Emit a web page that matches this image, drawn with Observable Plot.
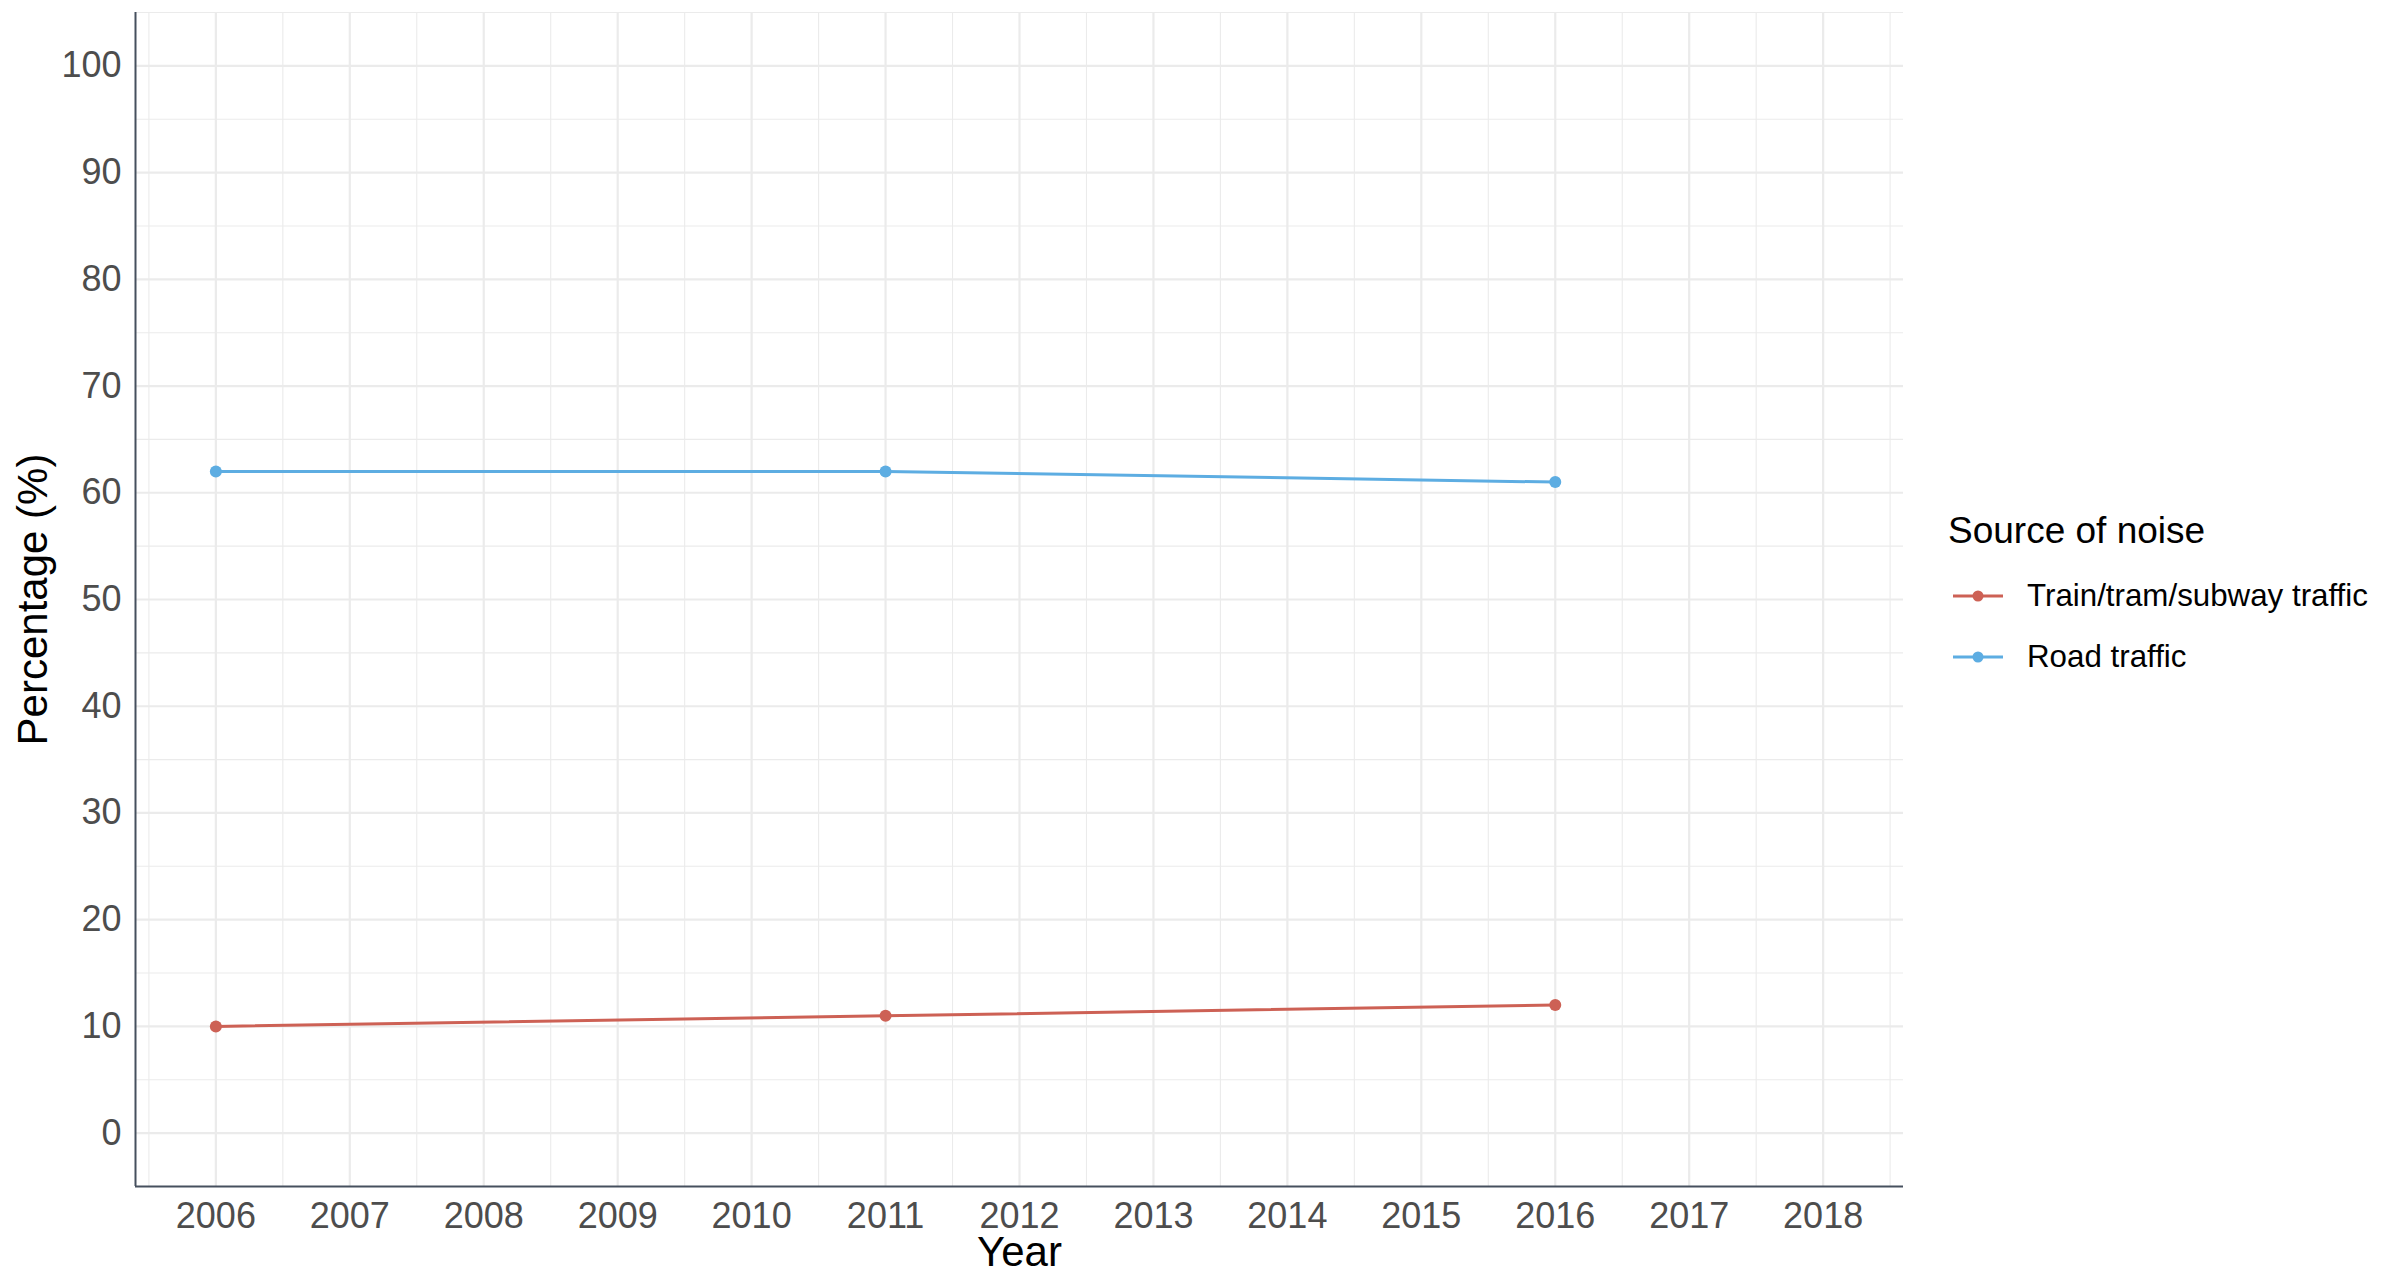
<!DOCTYPE html>
<html><head><meta charset="utf-8">
<script src="https://cdn.jsdelivr.net/npm/d3@7"></script>
<script src="https://cdn.jsdelivr.net/npm/@observablehq/plot@0.6"></script>
<style>
body{margin:0;background:#fff;font-family:"Liberation Sans",Arial,Helvetica,sans-serif;}
#wrap{position:relative;width:2381px;height:1276px;overflow:hidden;}
.lg{position:absolute;transform:translateY(-50%);white-space:nowrap;color:#000;}
.lgkey{position:absolute;transform:translateY(-50%);}
</style></head><body><div id="wrap"></div>
<script>
const years = [2006, 2011, 2016];
const trainTraffic = [10, 11, 12];
const roadTraffic = [62, 62, 61];
const seriesNames = ["Train/tram/subway traffic", "Road traffic"];
const seriesColors = ["#CD6155", "#5DADE2"];
const legendTitle = "Source of noise";
const xTicks = [2006, 2007, 2008, 2009, 2010, 2011, 2012, 2013, 2014, 2015, 2016, 2017, 2018];
const xMinor = [2005.5, 2006.5, 2007.5, 2008.5, 2009.5, 2010.5, 2011.5, 2012.5, 2013.5, 2014.5, 2015.5, 2016.5, 2017.5, 2018.5];
const yTicks = [0, 10, 20, 30, 40, 50, 60, 70, 80, 90, 100];
const yMinor = [5, 15, 25, 35, 45, 55, 65, 75, 85, 95, 105];
const xDomain = [2005.4, 2018.6];
const yDomain = [-5, 105];

const data = [];
years.forEach((y, i) => data.push({year: y, value: trainTraffic[i], series: seriesNames[0]}));
years.forEach((y, i) => data.push({year: y, value: roadTraffic[i], series: seriesNames[1]}));

const gridColor = "#ebebeb";
const axisColor = "#46505e";
const font = '"Liberation Sans", Arial, Helvetica, sans-serif';

const chart = Plot.plot({
  width: 2381, height: 1276,
  marginLeft: 135, marginRight: 478, marginTop: 12, marginBottom: 90,
  style: {fontFamily: font, background: "white", overflow: "visible"},
  x: {domain: xDomain, label: null},
  y: {domain: yDomain, label: null},
  color: {domain: seriesNames, range: seriesColors},
  marks: [
    Plot.gridX(xMinor, {stroke: gridColor, strokeOpacity: 1, strokeWidth: 1.1}),
    Plot.gridY(yMinor, {stroke: gridColor, strokeOpacity: 1, strokeWidth: 1.1}),
    Plot.gridX(xTicks, {stroke: gridColor, strokeOpacity: 1, strokeWidth: 2.2}),
    Plot.gridY(yTicks, {stroke: gridColor, strokeOpacity: 1, strokeWidth: 2.2}),
    Plot.axisX({ticks: xTicks, tickSize: 0, tickPadding: 16, fontSize: 36, fill: "#4d4d4d", label: null, tickFormat: d => String(d)}),
    Plot.axisY({ticks: yTicks, tickSize: 0, tickPadding: 14, fontSize: 36, fill: "#4d4d4d", label: null}),
    Plot.ruleX([xDomain[0]], {stroke: axisColor, strokeWidth: 2}),
    Plot.ruleY([yDomain[0]], {stroke: axisColor, strokeWidth: 2}),
    Plot.line(data, {x: "year", y: "value", z: "series", stroke: "series", strokeWidth: 3}),
    Plot.dot(data, {x: "year", y: "value", fill: "series", r: 6}),
    Plot.text(["Year"], {text: d => d, frameAnchor: "bottom", lineAnchor: "middle", textAnchor: "middle", dy: 66, fontSize: 42, fill: "#000"}),
    Plot.text(["Percentage (%)"], {text: d => d, frameAnchor: "left", textAnchor: "middle", lineAnchor: "middle", rotate: -90, dx: -102, fontSize: 42, fill: "#000"})
  ]
});
const wrap = document.getElementById("wrap");
wrap.appendChild(chart);

// legend
const t = document.createElement("div");
t.className = "lg"; t.style.left = "1948px"; t.style.top = "531px"; t.style.fontSize = "37px";
t.textContent = legendTitle;
wrap.appendChild(t);
const itemY = [596, 657];
seriesNames.forEach((name, i) => {
  const k = document.createElementNS("http://www.w3.org/2000/svg", "svg");
  k.setAttribute("width", 52); k.setAttribute("height", 16);
  k.setAttribute("class", "lgkey");
  k.style.left = "1952px"; k.style.top = itemY[i] + "px";
  k.innerHTML = `<line x1="1" x2="51" y1="8" y2="8" stroke="${seriesColors[i]}" stroke-width="3"/><circle cx="26" cy="8" r="5.5" fill="${seriesColors[i]}"/>`;
  wrap.appendChild(k);
  const l = document.createElement("div");
  l.className = "lg"; l.style.left = "2027px"; l.style.top = itemY[i] + "px"; l.style.fontSize = "31.3px";
  l.textContent = name;
  wrap.appendChild(l);
});
</script></body></html>
